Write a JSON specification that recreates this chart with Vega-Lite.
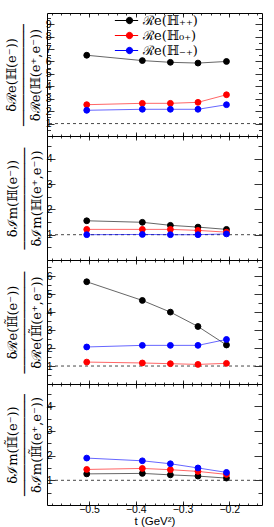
{
  "$schema": "https://vega.github.io/schema/vega-lite/v6.json",
  "padding": {"left": 4, "top": 12, "right": 6, "bottom": 2},
  "spacing": 0,
  "bounds": "flush",
  "datasets": {
    "d": [
      {"p": 1, "s": "pp", "t": -0.505, "v": 6.5},
      {"p": 1, "s": "pp", "t": -0.386, "v": 6.07},
      {"p": 1, "s": "pp", "t": -0.326, "v": 5.93},
      {"p": 1, "s": "pp", "t": -0.267, "v": 5.87},
      {"p": 1, "s": "pp", "t": -0.206, "v": 6.0},
      {"p": 1, "s": "0p", "t": -0.505, "v": 2.52},
      {"p": 1, "s": "0p", "t": -0.386, "v": 2.63},
      {"p": 1, "s": "0p", "t": -0.326, "v": 2.63},
      {"p": 1, "s": "0p", "t": -0.267, "v": 2.71},
      {"p": 1, "s": "0p", "t": -0.206, "v": 3.32},
      {"p": 1, "s": "mp", "t": -0.505, "v": 2.07},
      {"p": 1, "s": "mp", "t": -0.386, "v": 2.15},
      {"p": 1, "s": "mp", "t": -0.326, "v": 2.15},
      {"p": 1, "s": "mp", "t": -0.267, "v": 2.15},
      {"p": 1, "s": "mp", "t": -0.206, "v": 2.52},
      {"p": 2, "s": "pp", "t": -0.505, "v": 1.55},
      {"p": 2, "s": "pp", "t": -0.386, "v": 1.49},
      {"p": 2, "s": "pp", "t": -0.326, "v": 1.37},
      {"p": 2, "s": "pp", "t": -0.267, "v": 1.3},
      {"p": 2, "s": "pp", "t": -0.206, "v": 1.21},
      {"p": 2, "s": "0p", "t": -0.505, "v": 1.21},
      {"p": 2, "s": "0p", "t": -0.386, "v": 1.21},
      {"p": 2, "s": "0p", "t": -0.326, "v": 1.21},
      {"p": 2, "s": "0p", "t": -0.267, "v": 1.17},
      {"p": 2, "s": "0p", "t": -0.206, "v": 1.1},
      {"p": 2, "s": "mp", "t": -0.505, "v": 1.0},
      {"p": 2, "s": "mp", "t": -0.386, "v": 1.01},
      {"p": 2, "s": "mp", "t": -0.326, "v": 1.0},
      {"p": 2, "s": "mp", "t": -0.267, "v": 1.0},
      {"p": 2, "s": "mp", "t": -0.206, "v": 1.03},
      {"p": 3, "s": "pp", "t": -0.505, "v": 5.69},
      {"p": 3, "s": "pp", "t": -0.386, "v": 4.65},
      {"p": 3, "s": "pp", "t": -0.326, "v": 4.0},
      {"p": 3, "s": "pp", "t": -0.267, "v": 3.2},
      {"p": 3, "s": "pp", "t": -0.206, "v": 2.17},
      {"p": 3, "s": "0p", "t": -0.505, "v": 1.22},
      {"p": 3, "s": "0p", "t": -0.386, "v": 1.17},
      {"p": 3, "s": "0p", "t": -0.326, "v": 1.13},
      {"p": 3, "s": "0p", "t": -0.267, "v": 1.09},
      {"p": 3, "s": "0p", "t": -0.206, "v": 1.15},
      {"p": 3, "s": "mp", "t": -0.505, "v": 2.06},
      {"p": 3, "s": "mp", "t": -0.386, "v": 2.15},
      {"p": 3, "s": "mp", "t": -0.326, "v": 2.15},
      {"p": 3, "s": "mp", "t": -0.267, "v": 2.15},
      {"p": 3, "s": "mp", "t": -0.206, "v": 2.48},
      {"p": 4, "s": "pp", "t": -0.505, "v": 1.26},
      {"p": 4, "s": "pp", "t": -0.386, "v": 1.28},
      {"p": 4, "s": "pp", "t": -0.326, "v": 1.22},
      {"p": 4, "s": "pp", "t": -0.267, "v": 1.17},
      {"p": 4, "s": "pp", "t": -0.206, "v": 1.09},
      {"p": 4, "s": "0p", "t": -0.505, "v": 1.44},
      {"p": 4, "s": "0p", "t": -0.386, "v": 1.48},
      {"p": 4, "s": "0p", "t": -0.326, "v": 1.43},
      {"p": 4, "s": "0p", "t": -0.267, "v": 1.36},
      {"p": 4, "s": "0p", "t": -0.206, "v": 1.24},
      {"p": 4, "s": "mp", "t": -0.505, "v": 1.9},
      {"p": 4, "s": "mp", "t": -0.386, "v": 1.79},
      {"p": 4, "s": "mp", "t": -0.326, "v": 1.67},
      {"p": 4, "s": "mp", "t": -0.267, "v": 1.5},
      {"p": 4, "s": "mp", "t": -0.206, "v": 1.32}
    ]
  },
  "resolve": {
    "scale": {"color": "independent", "stroke": "independent"},
    "legend": {"color": "independent", "stroke": "independent"}
  },
  "config": {
    "view": {"stroke": "#000", "strokeWidth": 1},
    "axis": {
      "domain": false, "grid": false,
      "labelFont": "Liberation Sans", "labelFontSize": 10.5, "labelColor": "#000",
      "tickColor": "#000", "tickWidth": 0.8,
      "titleColor": "#000", "titleFontWeight": "normal"
    }
  },
  "vconcat": [
    {
      "width": 215, "height": 123,
      "resolve": {"axis": {"x": "independent", "y": "independent"}},
      "layer": [
        {
          "data": {"values": [{"v": 1}]},
          "mark": {"type": "rule", "strokeDash": [3, 3], "color": "#333", "strokeWidth": 0.9},
          "encoding": {"y": {"field": "v", "type": "quantitative", "scale": {"domain": [0, 9.9], "nice": false, "zero": false},
            "axis": {"orient": "left", "values": [0.5,1.5,2.5,3.5,4.5,5.5,6.5,7.5,8.5,9.5], "labels": false, "tickSize": -3.5, "title": null}}}
        },
        {
          "data": {"name": "d"}, "transform": [{"filter": "datum.p == 1"}],
          "mark": {"type": "line", "strokeWidth": 1, "opacity": 0.6},
          "encoding": {
            "x": {"field": "t", "type": "quantitative", "scale": {"domain": [-0.59, -0.13], "nice": false, "zero": false},
              "axis": {"orient": "top", "values": [-0.5,-0.4,-0.3,-0.2], "labels": false, "tickSize": -4, "title": null}},
            "y": {"field": "v", "type": "quantitative", "scale": {"domain": [0, 9.9], "nice": false, "zero": false},
              "axis": {"orient": "right", "values": [1,2,3,4,5,6,7,8,9], "labels": false, "tickSize": -7, "title": null}},
            "color": {"field": "s", "type": "nominal", "scale": {"domain": ["pp","0p","mp"], "range": ["#000","#ff0000","#0000ff"]}}
          }
        },
        {
          "data": {"name": "d"}, "transform": [{"filter": "datum.p == 1"}],
          "mark": {"type": "point", "filled": true, "size": 34, "opacity": 1, "strokeWidth": 1},
          "encoding": {
            "x": {"field": "t", "type": "quantitative", "scale": {"domain": [-0.59, -0.13], "nice": false, "zero": false},
              "axis": {"orient": "bottom", "values": [-0.5,-0.4,-0.3,-0.2], "labels": false, "tickSize": -4, "title": null}},
            "y": {"field": "v", "type": "quantitative", "scale": {"domain": [0, 9.9], "nice": false, "zero": false},
              "axis": {"orient": "left", "values": [1,2,3,4,5,6,7,8,9], "tickSize": -7, "labelPadding": 3,
                "title": ["δℛe(ℍ(e⁻))", "─────────────", "δℛe(ℍ(e⁺,e⁻))"],
                "titleFont": "DejaVu Serif", "titleFontSize": 13, "titleLineHeight": 12, "titlePadding": 3}},
            "color": {"field": "s", "type": "nominal", "scale": {"domain": ["pp","0p","mp"], "range": ["#000","#ff0000","#0000ff"]},
              "legend": {"orient": "none", "legendX": 75, "legendY": 0, "title": null,
                "labelExpr": "datum.label == 'pp' ? 'ℛe(ℍ₊₊)' : datum.label == '0p' ? 'ℛe(ℍ₀₊)' : 'ℛe(ℍ₋₊)'",
                "labelFont": "DejaVu Serif", "labelFontSize": 13, "labelColor": "#000",
                "symbolType": "M-2.2,0L1.3,0M0.48,0A0.48,0.48,0,1,1,-0.48,0A0.48,0.48,0,1,1,0.48,0Z",
                "symbolSize": 177, "symbolStrokeWidth": 1, "symbolOpacity": 1, "rowPadding": 0, "labelOffset": 6,
                "encode": {"symbols": {"update": {"opacity": {"value": 1}, "fillOpacity": {"value": 1}, "strokeOpacity": {"value": 1}}}}}},
            "stroke": {"field": "s", "type": "nominal", "scale": {"domain": ["pp","0p","mp"], "range": ["#000","#ff0000","#0000ff"]},
              "legend": {"orient": "none", "legendX": 75, "legendY": 0, "title": null}}
          }
        },
        {
          "data": {"name": "d"}, "transform": [{"filter": "datum.p == 1"}],
          "mark": {"type": "point", "opacity": 0},
          "encoding": {
            "x": {"field": "t", "type": "quantitative", "scale": {"domain": [-0.59, -0.13], "nice": false, "zero": false},
              "axis": {"orient": "bottom", "values": [-0.58,-0.56,-0.54,-0.52,-0.5,-0.48,-0.46,-0.44,-0.42,-0.4,-0.38,-0.36,-0.34,-0.32,-0.3,-0.28,-0.26,-0.24,-0.22,-0.2,-0.18,-0.16,-0.14], "labels": false, "tickSize": -2, "title": null}},
            "y": {"field": "v", "type": "quantitative", "scale": {"domain": [0, 9.9], "nice": false, "zero": false},
              "axis": {"orient": "right", "values": [0.5,1.5,2.5,3.5,4.5,5.5,6.5,7.5,8.5,9.5], "labels": false, "tickSize": -3.5, "title": null}}
          }
        },
        {
          "data": {"name": "d"}, "transform": [{"filter": "datum.p == 1"}],
          "mark": {"type": "point", "opacity": 0},
          "encoding": {
            "x": {"field": "t", "type": "quantitative", "scale": {"domain": [-0.59, -0.13], "nice": false, "zero": false},
              "axis": {"orient": "top", "values": [-0.58,-0.56,-0.54,-0.52,-0.5,-0.48,-0.46,-0.44,-0.42,-0.4,-0.38,-0.36,-0.34,-0.32,-0.3,-0.28,-0.26,-0.24,-0.22,-0.2,-0.18,-0.16,-0.14], "labels": false, "tickSize": -2, "title": null}},
            "y": {"field": "v", "type": "quantitative", "scale": {"domain": [0, 9.9], "nice": false, "zero": false}, "axis": null}
          }
        }
      ]
    },
    {
      "width": 215, "height": 124,
      "resolve": {"axis": {"x": "independent", "y": "independent"}},
      "layer": [
        {
          "data": {"values": [{"v": 1}]},
          "mark": {"type": "rule", "strokeDash": [3, 3], "color": "#333", "strokeWidth": 0.9},
          "encoding": {"y": {"field": "v", "type": "quantitative", "scale": {"domain": [0, 4.9], "nice": false, "zero": false},
            "axis": {"orient": "left", "values": [0.5,1.5,2.5,3.5,4.5], "labels": false, "tickSize": -4, "title": null}}}
        },
        {
          "data": {"name": "d"}, "transform": [{"filter": "datum.p == 2"}],
          "mark": {"type": "line", "strokeWidth": 1, "opacity": 0.6},
          "encoding": {
            "x": {"field": "t", "type": "quantitative", "scale": {"domain": [-0.59, -0.13], "nice": false, "zero": false},
              "axis": {"orient": "top", "values": [-0.5,-0.4,-0.3,-0.2], "labels": false, "tickSize": -4, "title": null}},
            "y": {"field": "v", "type": "quantitative", "scale": {"domain": [0, 4.9], "nice": false, "zero": false},
              "axis": {"orient": "right", "values": [1,2,3,4], "labels": false, "tickSize": -8, "title": null}},
            "color": {"field": "s", "type": "nominal", "scale": {"domain": ["pp","0p","mp"], "range": ["#000","#ff0000","#0000ff"]}, "legend": null}
          }
        },
        {
          "data": {"name": "d"}, "transform": [{"filter": "datum.p == 2"}],
          "mark": {"type": "point", "filled": true, "size": 34, "opacity": 1, "strokeWidth": 1},
          "encoding": {
            "x": {"field": "t", "type": "quantitative", "scale": {"domain": [-0.59, -0.13], "nice": false, "zero": false},
              "axis": {"orient": "bottom", "values": [-0.5,-0.4,-0.3,-0.2], "labels": false, "tickSize": -4, "title": null}},
            "y": {"field": "v", "type": "quantitative", "scale": {"domain": [0, 4.9], "nice": false, "zero": false},
              "axis": {"orient": "left", "values": [1,2,3,4], "tickSize": -8, "labelPadding": 3,
                "title": ["δℐm(ℍ(e⁻))", "─────────────", "δℐm(ℍ(e⁺,e⁻))"],
                "titleFont": "DejaVu Serif", "titleFontSize": 13, "titleLineHeight": 12, "titlePadding": 3}},
            "color": {"field": "s", "type": "nominal", "scale": {"domain": ["pp","0p","mp"], "range": ["#000","#ff0000","#0000ff"]}, "legend": null},
            "stroke": {"field": "s", "type": "nominal", "scale": {"domain": ["pp","0p","mp"], "range": ["#000","#ff0000","#0000ff"]}, "legend": null}
          }
        },
        {
          "data": {"name": "d"}, "transform": [{"filter": "datum.p == 2"}],
          "mark": {"type": "point", "opacity": 0},
          "encoding": {
            "x": {"field": "t", "type": "quantitative", "scale": {"domain": [-0.59, -0.13], "nice": false, "zero": false},
              "axis": {"orient": "bottom", "values": [-0.58,-0.56,-0.54,-0.52,-0.5,-0.48,-0.46,-0.44,-0.42,-0.4,-0.38,-0.36,-0.34,-0.32,-0.3,-0.28,-0.26,-0.24,-0.22,-0.2,-0.18,-0.16,-0.14], "labels": false, "tickSize": -2, "title": null}},
            "y": {"field": "v", "type": "quantitative", "scale": {"domain": [0, 4.9], "nice": false, "zero": false},
              "axis": {"orient": "right", "values": [0.5,1.5,2.5,3.5,4.5], "labels": false, "tickSize": -4, "title": null}}
          }
        },
        {
          "data": {"name": "d"}, "transform": [{"filter": "datum.p == 2"}],
          "mark": {"type": "point", "opacity": 0},
          "encoding": {
            "x": {"field": "t", "type": "quantitative", "scale": {"domain": [-0.59, -0.13], "nice": false, "zero": false},
              "axis": {"orient": "top", "values": [-0.58,-0.56,-0.54,-0.52,-0.5,-0.48,-0.46,-0.44,-0.42,-0.4,-0.38,-0.36,-0.34,-0.32,-0.3,-0.28,-0.26,-0.24,-0.22,-0.2,-0.18,-0.16,-0.14], "labels": false, "tickSize": -2, "title": null}},
            "y": {"field": "v", "type": "quantitative", "scale": {"domain": [0, 4.9], "nice": false, "zero": false}, "axis": null}
          }
        }
      ]
    },
    {
      "width": 215, "height": 124,
      "resolve": {"axis": {"x": "independent", "y": "independent"}},
      "layer": [
        {
          "data": {"values": [{"v": 1}]},
          "mark": {"type": "rule", "strokeDash": [3, 3], "color": "#333", "strokeWidth": 0.9},
          "encoding": {"y": {"field": "v", "type": "quantitative", "scale": {"domain": [0, 6.9], "nice": false, "zero": false},
            "axis": {"orient": "left", "values": [0.5,1.5,2.5,3.5,4.5,5.5,6.5], "labels": false, "tickSize": -4, "title": null}}}
        },
        {
          "data": {"name": "d"}, "transform": [{"filter": "datum.p == 3"}],
          "mark": {"type": "line", "strokeWidth": 1, "opacity": 0.6},
          "encoding": {
            "x": {"field": "t", "type": "quantitative", "scale": {"domain": [-0.59, -0.13], "nice": false, "zero": false},
              "axis": {"orient": "top", "values": [-0.5,-0.4,-0.3,-0.2], "labels": false, "tickSize": -4, "title": null}},
            "y": {"field": "v", "type": "quantitative", "scale": {"domain": [0, 6.9], "nice": false, "zero": false},
              "axis": {"orient": "right", "values": [1,2,3,4,5,6], "labels": false, "tickSize": -8, "title": null}},
            "color": {"field": "s", "type": "nominal", "scale": {"domain": ["pp","0p","mp"], "range": ["#000","#ff0000","#0000ff"]}, "legend": null}
          }
        },
        {
          "data": {"name": "d"}, "transform": [{"filter": "datum.p == 3"}],
          "mark": {"type": "point", "filled": true, "size": 34, "opacity": 1, "strokeWidth": 1},
          "encoding": {
            "x": {"field": "t", "type": "quantitative", "scale": {"domain": [-0.59, -0.13], "nice": false, "zero": false},
              "axis": {"orient": "bottom", "values": [-0.5,-0.4,-0.3,-0.2], "labels": false, "tickSize": -4, "title": null}},
            "y": {"field": "v", "type": "quantitative", "scale": {"domain": [0, 6.9], "nice": false, "zero": false},
              "axis": {"orient": "left", "values": [1,2,3,4,5,6], "tickSize": -8, "labelPadding": 3,
                "title": ["δℛe(ℍ̃(e⁻))", "─────────────", "δℛe(ℍ̃(e⁺,e⁻))"],
                "titleFont": "DejaVu Serif", "titleFontSize": 13, "titleLineHeight": 12, "titlePadding": 3}},
            "color": {"field": "s", "type": "nominal", "scale": {"domain": ["pp","0p","mp"], "range": ["#000","#ff0000","#0000ff"]}, "legend": null},
            "stroke": {"field": "s", "type": "nominal", "scale": {"domain": ["pp","0p","mp"], "range": ["#000","#ff0000","#0000ff"]}, "legend": null}
          }
        },
        {
          "data": {"name": "d"}, "transform": [{"filter": "datum.p == 3"}],
          "mark": {"type": "point", "opacity": 0},
          "encoding": {
            "x": {"field": "t", "type": "quantitative", "scale": {"domain": [-0.59, -0.13], "nice": false, "zero": false},
              "axis": {"orient": "bottom", "values": [-0.58,-0.56,-0.54,-0.52,-0.5,-0.48,-0.46,-0.44,-0.42,-0.4,-0.38,-0.36,-0.34,-0.32,-0.3,-0.28,-0.26,-0.24,-0.22,-0.2,-0.18,-0.16,-0.14], "labels": false, "tickSize": -2, "title": null}},
            "y": {"field": "v", "type": "quantitative", "scale": {"domain": [0, 6.9], "nice": false, "zero": false},
              "axis": {"orient": "right", "values": [0.5,1.5,2.5,3.5,4.5,5.5,6.5], "labels": false, "tickSize": -4, "title": null}}
          }
        },
        {
          "data": {"name": "d"}, "transform": [{"filter": "datum.p == 3"}],
          "mark": {"type": "point", "opacity": 0},
          "encoding": {
            "x": {"field": "t", "type": "quantitative", "scale": {"domain": [-0.59, -0.13], "nice": false, "zero": false},
              "axis": {"orient": "top", "values": [-0.58,-0.56,-0.54,-0.52,-0.5,-0.48,-0.46,-0.44,-0.42,-0.4,-0.38,-0.36,-0.34,-0.32,-0.3,-0.28,-0.26,-0.24,-0.22,-0.2,-0.18,-0.16,-0.14], "labels": false, "tickSize": -2, "title": null}},
            "y": {"field": "v", "type": "quantitative", "scale": {"domain": [0, 6.9], "nice": false, "zero": false}, "axis": null}
          }
        }
      ]
    },
    {
      "width": 215, "height": 121,
      "resolve": {"axis": {"x": "independent", "y": "independent"}},
      "layer": [
        {
          "data": {"values": [{"v": 1}]},
          "mark": {"type": "rule", "strokeDash": [3, 3], "color": "#333", "strokeWidth": 0.9},
          "encoding": {"y": {"field": "v", "type": "quantitative", "scale": {"domain": [0, 4.9], "nice": false, "zero": false},
            "axis": {"orient": "left", "values": [0.5,1.5,2.5,3.5,4.5], "labels": false, "tickSize": -4, "title": null}}}
        },
        {
          "data": {"name": "d"}, "transform": [{"filter": "datum.p == 4"}],
          "mark": {"type": "line", "strokeWidth": 1, "opacity": 0.6},
          "encoding": {
            "x": {"field": "t", "type": "quantitative", "scale": {"domain": [-0.59, -0.13], "nice": false, "zero": false},
              "axis": {"orient": "top", "values": [-0.5,-0.4,-0.3,-0.2], "labels": false, "tickSize": -4, "title": null}},
            "y": {"field": "v", "type": "quantitative", "scale": {"domain": [0, 4.9], "nice": false, "zero": false},
              "axis": {"orient": "right", "values": [1,2,3,4], "labels": false, "tickSize": -8, "title": null}},
            "color": {"field": "s", "type": "nominal", "scale": {"domain": ["pp","0p","mp"], "range": ["#000","#ff0000","#0000ff"]}, "legend": null}
          }
        },
        {
          "data": {"name": "d"}, "transform": [{"filter": "datum.p == 4"}],
          "mark": {"type": "point", "filled": true, "size": 34, "opacity": 1, "strokeWidth": 1},
          "encoding": {
            "x": {"field": "t", "type": "quantitative", "scale": {"domain": [-0.59, -0.13], "nice": false, "zero": false},
              "axis": {"orient": "bottom", "values": [-0.5,-0.4,-0.3,-0.2], "tickSize": -4, "labelPadding": 3,
                "title": "t (GeV²)", "titleFont": "Liberation Sans", "titleFontSize": 11.5, "titlePadding": 1}},
            "y": {"field": "v", "type": "quantitative", "scale": {"domain": [0, 4.9], "nice": false, "zero": false},
              "axis": {"orient": "left", "values": [1,2,3,4], "tickSize": -8, "labelPadding": 3,
                "title": ["δℐm(ℍ̃(e⁻))", "─────────────", "δℐm(ℍ̃(e⁺,e⁻))"],
                "titleFont": "DejaVu Serif", "titleFontSize": 13, "titleLineHeight": 12, "titlePadding": 3}},
            "color": {"field": "s", "type": "nominal", "scale": {"domain": ["pp","0p","mp"], "range": ["#000","#ff0000","#0000ff"]}, "legend": null},
            "stroke": {"field": "s", "type": "nominal", "scale": {"domain": ["pp","0p","mp"], "range": ["#000","#ff0000","#0000ff"]}, "legend": null}
          }
        },
        {
          "data": {"name": "d"}, "transform": [{"filter": "datum.p == 4"}],
          "mark": {"type": "point", "opacity": 0},
          "encoding": {
            "x": {"field": "t", "type": "quantitative", "scale": {"domain": [-0.59, -0.13], "nice": false, "zero": false},
              "axis": {"orient": "bottom", "values": [-0.58,-0.56,-0.54,-0.52,-0.5,-0.48,-0.46,-0.44,-0.42,-0.4,-0.38,-0.36,-0.34,-0.32,-0.3,-0.28,-0.26,-0.24,-0.22,-0.2,-0.18,-0.16,-0.14], "labels": false, "tickSize": -2, "title": null}},
            "y": {"field": "v", "type": "quantitative", "scale": {"domain": [0, 4.9], "nice": false, "zero": false},
              "axis": {"orient": "right", "values": [0.5,1.5,2.5,3.5,4.5], "labels": false, "tickSize": -4, "title": null}}
          }
        },
        {
          "data": {"name": "d"}, "transform": [{"filter": "datum.p == 4"}],
          "mark": {"type": "point", "opacity": 0},
          "encoding": {
            "x": {"field": "t", "type": "quantitative", "scale": {"domain": [-0.59, -0.13], "nice": false, "zero": false},
              "axis": {"orient": "top", "values": [-0.58,-0.56,-0.54,-0.52,-0.5,-0.48,-0.46,-0.44,-0.42,-0.4,-0.38,-0.36,-0.34,-0.32,-0.3,-0.28,-0.26,-0.24,-0.22,-0.2,-0.18,-0.16,-0.14], "labels": false, "tickSize": -2, "title": null}},
            "y": {"field": "v", "type": "quantitative", "scale": {"domain": [0, 4.9], "nice": false, "zero": false}, "axis": null}
          }
        }
      ]
    }
  ]
}
